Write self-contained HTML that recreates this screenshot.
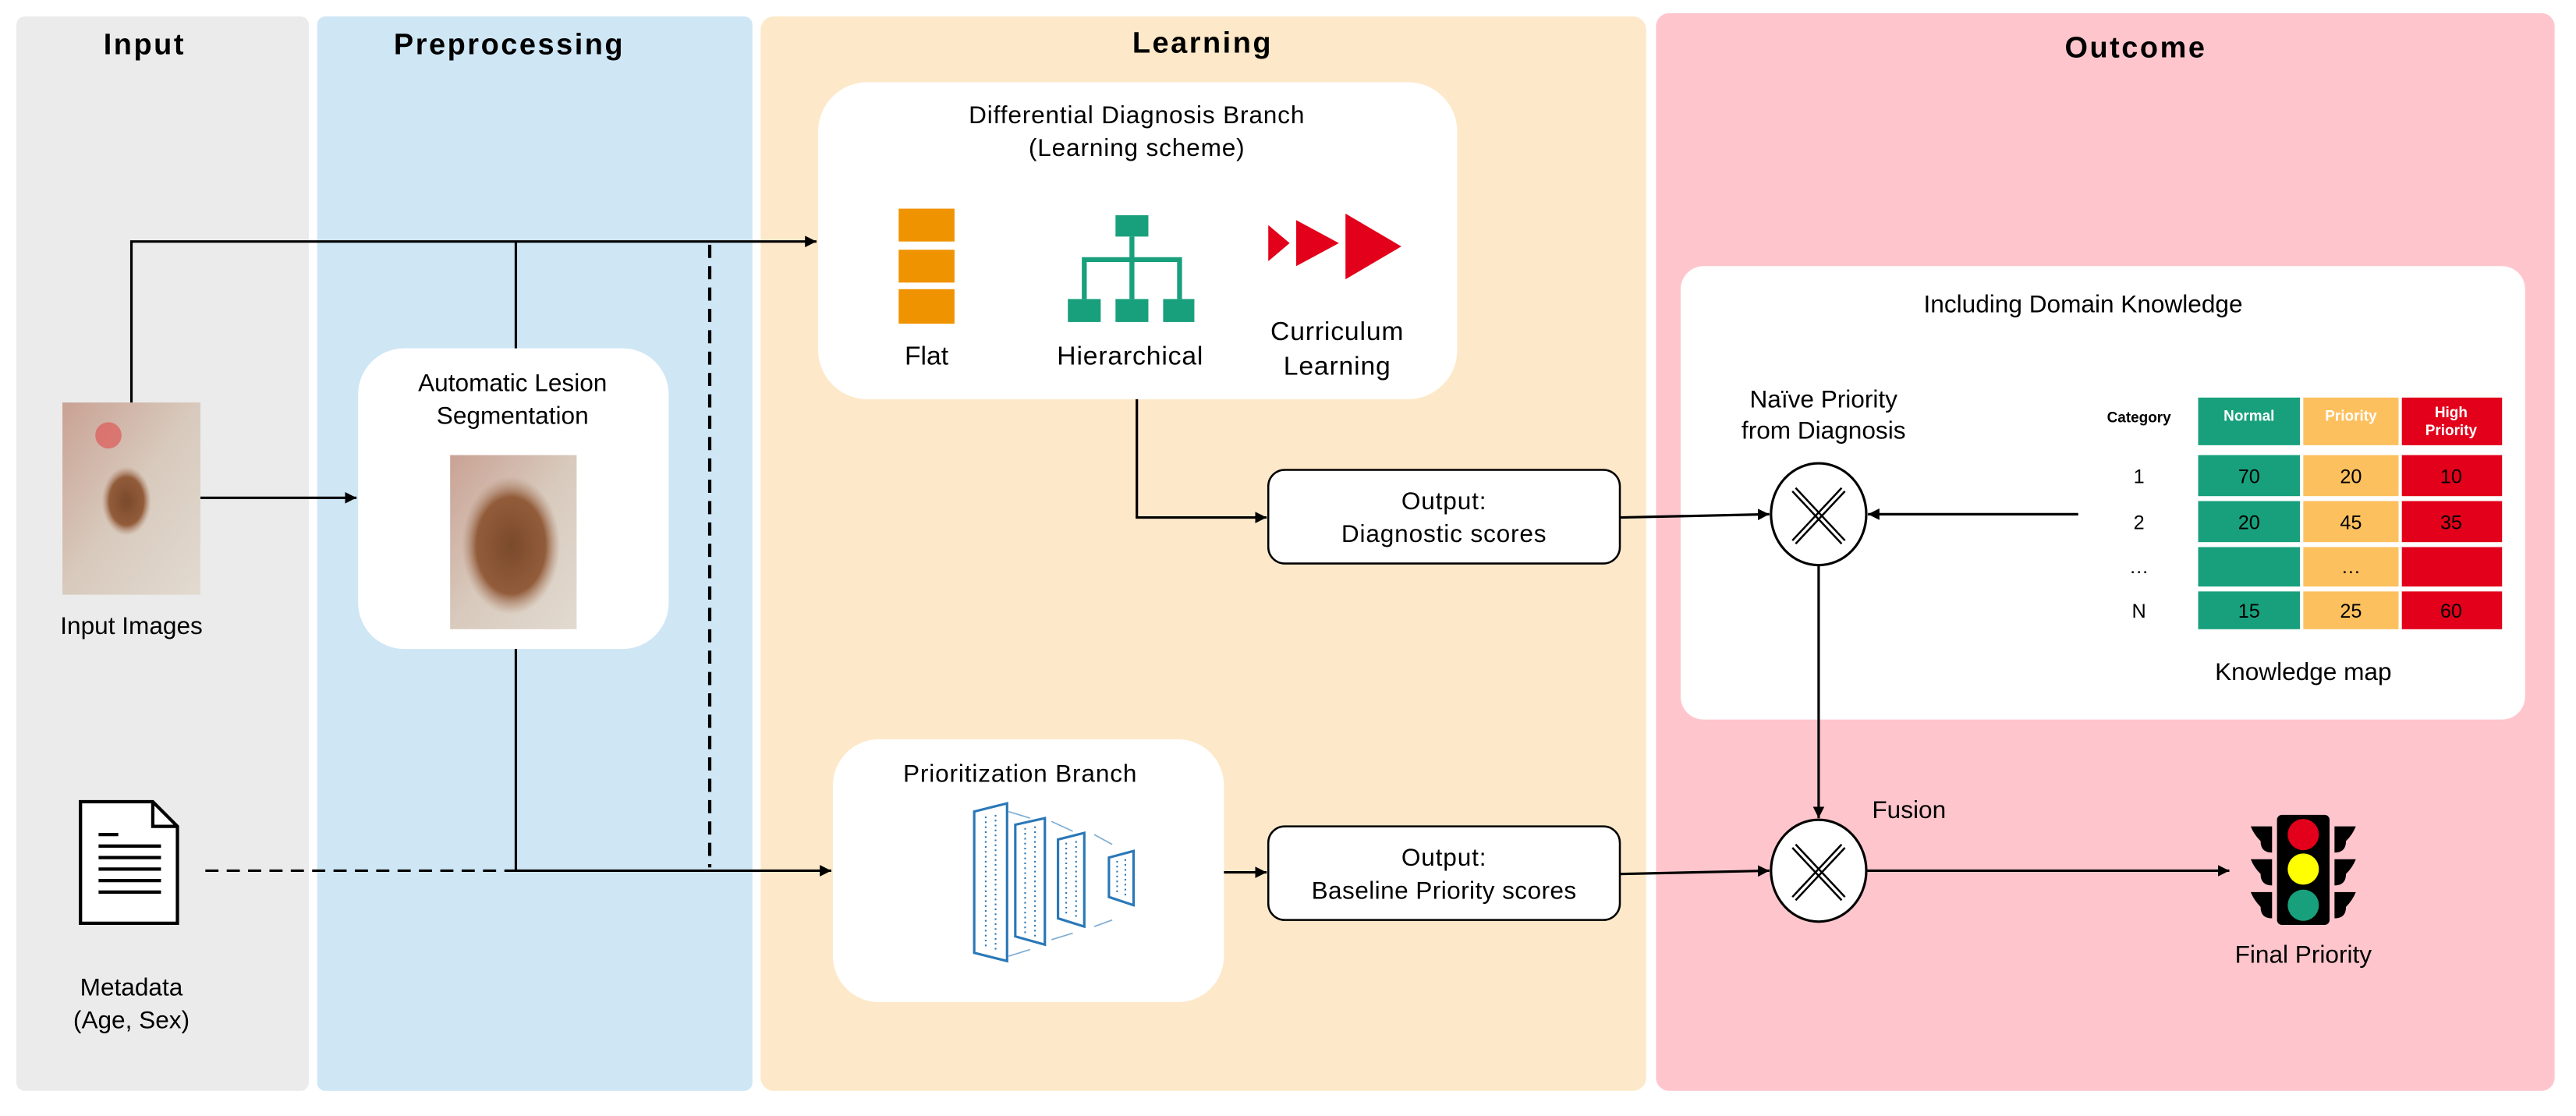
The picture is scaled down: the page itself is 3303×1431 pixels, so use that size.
<!DOCTYPE html>
<html><head><meta charset="utf-8"><style>
html,body{margin:0;padding:0;background:#fff;}
svg{display:block;}
text{font-family:"Liberation Sans",sans-serif;fill:#000;}
</style></head><body>
<svg width="3303" height="1431" viewBox="0 0 1568 679.3" xmlns="http://www.w3.org/2000/svg">
<defs>
<marker id="ar" viewBox="0 0 10 10" refX="10" refY="5" markerWidth="7" markerHeight="7" markerUnits="userSpaceOnUse" orient="auto"><path d="M0,0 L10,5 L0,10 z" fill="#000"/></marker>
<linearGradient id="skin" x1="0" y1="0" x2="1" y2="1"><stop offset="0" stop-color="#c9a294"/><stop offset="0.5" stop-color="#d8cabd"/><stop offset="1" stop-color="#e2dad0"/></linearGradient>
<radialGradient id="mole" cx="0.5" cy="0.5" r="0.5"><stop offset="0" stop-color="#7a4a2c"/><stop offset="0.7" stop-color="#925c3a"/><stop offset="1" stop-color="#b08870" stop-opacity="0"/></radialGradient>
</defs>
<rect width="1568" height="679.3" fill="#fff"/>
<rect x="10" y="10" width="178" height="654" rx="5" fill="#ebebeb"/>
<rect x="193" y="10" width="265" height="654" rx="5" fill="#cfe6f5"/>
<rect x="463" y="10" width="539" height="654" rx="8" fill="#fde9c9"/>
<rect x="1008" y="8" width="547" height="656" rx="8" fill="#fec6cc"/>
<g font-weight="bold" font-size="18" text-anchor="middle" letter-spacing="1.2">
<text x="88" y="33">Input</text>
<text x="310" y="33">Preprocessing</text>
<text x="732" y="32">Learning</text>
<text x="1300" y="35">Outcome</text>
</g>
<rect x="38" y="245" width="84" height="117" fill="url(#skin)"/>
<circle cx="66" cy="265" r="8" fill="#e04a4a" opacity="0.6"/>
<ellipse cx="77" cy="305" rx="15" ry="21" fill="url(#mole)"/>
<text x="80" y="386" font-size="15" text-anchor="middle">Input Images</text>
<path d="M49,488 L93,488 L108,503 L108,562 L49,562 Z" fill="#fff" stroke="#000" stroke-width="2"/>
<path d="M93,488 L93,503 L108,503" fill="none" stroke="#000" stroke-width="2"/>
<g stroke="#000" stroke-width="2"><line x1="60" y1="508" x2="72" y2="508"/><line x1="60" y1="515" x2="98" y2="515"/><line x1="60" y1="522" x2="98" y2="522"/><line x1="60" y1="529" x2="98" y2="529"/><line x1="60" y1="536" x2="98" y2="536"/><line x1="60" y1="543" x2="98" y2="543"/></g>
<text x="80" y="606" font-size="15" text-anchor="middle">Metadata</text>
<text x="80" y="626" font-size="15" text-anchor="middle">(Age, Sex)</text>
<rect x="218" y="212" width="189" height="183" rx="28" fill="#fff"/>
<text x="312" y="238" font-size="15" text-anchor="middle">Automatic Lesion</text>
<text x="312" y="258" font-size="15" text-anchor="middle">Segmentation</text>
<rect x="274" y="277" width="77" height="106" fill="url(#skin)"/>
<ellipse cx="311" cy="332" rx="30" ry="42" fill="url(#mole)"/>
<g stroke="#000" stroke-width="1.5" fill="none">
<polyline points="80,245 80,147 497,147" marker-end="url(#ar)"/>
<line x1="314" y1="147" x2="314" y2="212"/>
<line x1="122" y1="303" x2="217" y2="303" marker-end="url(#ar)"/>
<polyline points="314,395 314,530 506,530" marker-end="url(#ar)"/>
<line x1="125" y1="530" x2="314" y2="530" stroke-dasharray="8,5"/>
<line x1="432" y1="149" x2="432" y2="528" stroke-dasharray="8,5" stroke-width="2"/>
</g>
<rect x="498" y="50" width="389" height="193" rx="30" fill="#fff"/>
<text x="692" y="75" font-size="15" text-anchor="middle" letter-spacing="0.4">Differential Diagnosis Branch</text>
<text x="692" y="95" font-size="15" text-anchor="middle" letter-spacing="0.4">(Learning scheme)</text>
<g fill="#f09300"><rect x="547" y="127" width="34" height="20"/><rect x="547" y="152" width="34" height="20"/><rect x="547" y="176" width="34" height="21"/></g>
<text x="564" y="222" font-size="16" text-anchor="middle">Flat</text>
<g fill="#18a07c"><rect x="679" y="131" width="20" height="13"/><rect x="650" y="182" width="20" height="14"/><rect x="679" y="182" width="20" height="14"/><rect x="708" y="182" width="19" height="14"/></g>
<g stroke="#18a07c" stroke-width="3" fill="none"><line x1="689" y1="144" x2="689" y2="182"/><polyline points="660,182 660,158 718,158 718,182"/></g>
<text x="688" y="222" font-size="16" text-anchor="middle" letter-spacing="0.4">Hierarchical</text>
<g fill="#e2001a"><path d="M772,137 L785,148 L772,159 z"/><path d="M789,134 L815,148 L789,162 z"/><path d="M819,130 L853,150 L819,170 z"/></g>
<text x="814" y="207" font-size="16" text-anchor="middle" letter-spacing="0.4">Curriculum</text>
<text x="814" y="228" font-size="16" text-anchor="middle" letter-spacing="0.4">Learning</text>
<rect x="507" y="450" width="238" height="160" rx="28" fill="#fff"/>
<text x="621" y="476" font-size="15" text-anchor="middle" letter-spacing="0.4">Prioritization Branch</text>
<g stroke="#2a78b8" stroke-width="0.8" opacity="0.6"><line x1="614" y1="494" x2="627" y2="498"/><line x1="640" y1="500" x2="653" y2="506"/><line x1="666" y1="508" x2="677" y2="514"/><line x1="614" y1="582" x2="627" y2="578"/><line x1="640" y1="572" x2="653" y2="568"/><line x1="666" y1="564" x2="677" y2="560"/></g>
<g stroke="#2a78b8" stroke-width="1.5" fill="#fff">
<path d="M593,494 L613,489 L613,585 L593,580 z"/>
<path d="M618,502 L636,498 L636,575 L618,570 z"/>
<path d="M644,511 L660,507 L660,564 L644,559 z"/>
<path d="M675,522 L690,518 L690,551 L675,546 z"/>
</g>
<g stroke="#2a78b8" stroke-width="1" stroke-dasharray="1,2"><line x1="600" y1="497" x2="600" y2="578"/><line x1="606" y1="496" x2="606" y2="580"/><line x1="624" y1="504" x2="624" y2="568"/><line x1="630" y1="503" x2="630" y2="570"/><line x1="649" y1="513" x2="649" y2="557"/><line x1="655" y1="512" x2="655" y2="559"/><line x1="680" y1="524" x2="680" y2="545"/><line x1="685" y1="523" x2="685" y2="547"/></g>
<rect x="772" y="286" width="214" height="57" rx="10" fill="#fff" stroke="#000" stroke-width="1.2"/>
<text x="879" y="310" font-size="15" text-anchor="middle" letter-spacing="0.4">Output:</text>
<text x="879" y="330" font-size="15" text-anchor="middle" letter-spacing="0.4">Diagnostic scores</text>
<rect x="772" y="503" width="214" height="57" rx="10" fill="#fff" stroke="#000" stroke-width="1.2"/>
<text x="879" y="527" font-size="15" text-anchor="middle" letter-spacing="0.4">Output:</text>
<text x="879" y="547" font-size="15" text-anchor="middle" letter-spacing="0.2">Baseline Priority scores</text>
<g stroke="#000" stroke-width="1.5" fill="none">
<polyline points="692,243 692,315 771,315" marker-end="url(#ar)"/>
<line x1="745" y1="531" x2="771" y2="531" marker-end="url(#ar)"/>
</g>
<rect x="1023" y="162" width="514" height="276" rx="14" fill="#fff"/>
<text x="1268" y="190" font-size="15" text-anchor="middle">Including Domain Knowledge</text>
<text x="1110" y="248" font-size="15" text-anchor="middle">Naïve Priority</text>
<text x="1110" y="267" font-size="15" text-anchor="middle">from Diagnosis</text>
<g font-size="12" text-anchor="middle">
<text x="1302" y="257" font-size="9" font-weight="bold">Category</text>
<rect x="1338" y="242" width="62" height="29" fill="#18a07c"/><rect x="1402" y="242" width="58" height="29" fill="#fdc05e"/><rect x="1462" y="242" width="61" height="29" fill="#e2001a"/>
<text x="1369" y="256" font-size="9" font-weight="bold" fill="#fff" style="fill:#fff">Normal</text>
<text x="1431" y="256" font-size="9" font-weight="bold" style="fill:#fff">Priority</text>
<text x="1492" y="254" font-size="9" font-weight="bold" style="fill:#fff">High</text>
<text x="1492" y="265" font-size="9" font-weight="bold" style="fill:#fff">Priority</text>
<rect x="1338" y="277" width="62" height="25" fill="#18a07c"/><rect x="1402" y="277" width="58" height="25" fill="#fdc05e"/><rect x="1462" y="277" width="61" height="25" fill="#e2001a"/>
<rect x="1338" y="305" width="62" height="25" fill="#18a07c"/><rect x="1402" y="305" width="58" height="25" fill="#fdc05e"/><rect x="1462" y="305" width="61" height="25" fill="#e2001a"/>
<rect x="1338" y="333" width="62" height="24" fill="#18a07c"/><rect x="1402" y="333" width="58" height="24" fill="#fdc05e"/><rect x="1462" y="333" width="61" height="24" fill="#e2001a"/>
<rect x="1338" y="360" width="62" height="23" fill="#18a07c"/><rect x="1402" y="360" width="58" height="23" fill="#fdc05e"/><rect x="1462" y="360" width="61" height="23" fill="#e2001a"/>
<text x="1302" y="294">1</text><text x="1369" y="294">70</text><text x="1431" y="294">20</text><text x="1492" y="294">10</text>
<text x="1302" y="322">2</text><text x="1369" y="322">20</text><text x="1431" y="322">45</text><text x="1492" y="322">35</text>
<text x="1302" y="349">…</text><text x="1431" y="349">…</text>
<text x="1302" y="376">N</text><text x="1369" y="376">15</text><text x="1431" y="376">25</text><text x="1492" y="376">60</text>
</g>
<text x="1402" y="414" font-size="15" text-anchor="middle">Knowledge map</text>
<g stroke="#000" stroke-width="1.5" fill="#fff">
<ellipse cx="1107" cy="313" rx="29" ry="31"/>
<ellipse cx="1107" cy="530" rx="29" ry="31"/>
</g>
<g stroke="#000" stroke-width="1.2" fill="none">
<path d="M1093,297 L1123,329 M1091,299 L1121,331 M1121,297 L1091,329 M1123,299 L1093,331"/>
<path d="M1093,514 L1123,546 M1091,516 L1121,548 M1121,514 L1091,546 M1123,516 L1093,548"/>
</g>
<g stroke="#000" stroke-width="1.5" fill="none">
<line x1="986" y1="315" x2="1077" y2="313" marker-end="url(#ar)"/>
<line x1="1265" y1="313" x2="1137" y2="313" marker-end="url(#ar)"/>
<line x1="1107" y1="344" x2="1107" y2="498" marker-end="url(#ar)"/>
<line x1="986" y1="532" x2="1077" y2="530" marker-end="url(#ar)"/>
<line x1="1136" y1="530" x2="1357" y2="530" marker-end="url(#ar)"/>
</g>
<text x="1162" y="498" font-size="15" text-anchor="middle">Fusion</text>
<rect x="1386" y="496" width="32" height="67" rx="3" fill="#000"/>
<g fill="#000">
<path d="M1370,503 L1383,503 L1383,519 Q1376,519 1376,512 Q1372,508 1370,503z"/>
<path d="M1370,523 L1383,523 L1383,539 Q1376,539 1376,532 Q1372,528 1370,523z"/>
<path d="M1370,543 L1383,543 L1383,559 Q1376,559 1376,552 Q1372,548 1370,543z"/>
<path d="M1434,503 L1421,503 L1421,519 Q1428,519 1428,512 Q1432,508 1434,503z"/>
<path d="M1434,523 L1421,523 L1421,539 Q1428,539 1428,532 Q1432,528 1434,523z"/>
<path d="M1434,543 L1421,543 L1421,559 Q1428,559 1428,552 Q1432,548 1434,543z"/>
</g>
<circle cx="1402" cy="508" r="9.5" fill="#e2001a"/>
<circle cx="1402" cy="529" r="9.5" fill="#ffff00"/>
<circle cx="1402" cy="551" r="9.5" fill="#18a07c"/>
<text x="1402" y="586" font-size="15" text-anchor="middle">Final Priority</text>
</svg>
</body></html>
